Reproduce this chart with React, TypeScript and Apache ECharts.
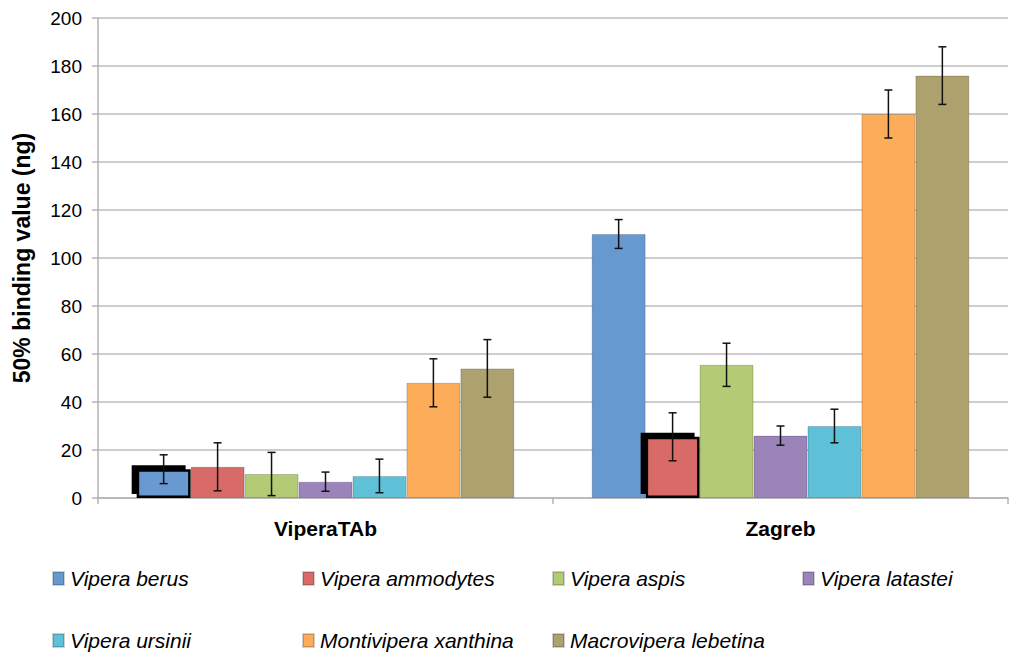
import React, { useEffect, useRef } from "react";
import * as echarts from "echarts";

const categories = ["ViperaTAb", "Zagreb"];
const speciesNames = [
  "Vipera berus",
  "Vipera ammodytes",
  "Vipera aspis",
  "Vipera latastei",
  "Vipera ursinii",
  "Montivipera xanthina",
  "Macrovipera lebetina",
];
// values per species: [ViperaTAb, Zagreb]
const viperaBerus = [12, 110];
const viperaAmmodytes = [13, 25.5];
const viperaAspis = [10, 55.5];
const viperaLatastei = [6.8, 26];
const viperaUrsinii = [9.2, 30];
const montiviperaXanthina = [48, 160];
const macroviperaLebetina = [54, 176];
// error (±) per species: [ViperaTAb, Zagreb]
const errBerus = [6, 6];
const errAmmodytes = [10, 10];
const errAspis = [9, 9];
const errLatastei = [4, 4];
const errUrsinii = [7, 7];
const errXanthina = [10, 10];
const errLebetina = [12, 12];
// highlighted (outlined) bars: [seriesIndex, categoryIndex]
const highlighted = [
  [0, 0],
  [1, 1],
];
const yTicks = { min: 0, max: 200, interval: 20 };

const seriesValues = [
  viperaBerus,
  viperaAmmodytes,
  viperaAspis,
  viperaLatastei,
  viperaUrsinii,
  montiviperaXanthina,
  macroviperaLebetina,
];
const seriesErrors = [
  errBerus,
  errAmmodytes,
  errAspis,
  errLatastei,
  errUrsinii,
  errXanthina,
  errLebetina,
];

const colors = [
  "#6799D1",
  "#D86B67",
  "#B3CB74",
  "#9B84BA",
  "#5EC1D7",
  "#FDAC5A",
  "#ADA16D",
];

const FONT = "'Liberation Sans', Arial, Helvetica, sans-serif";
const CAT_GAP = 0.17;

export default function App() {
  const ref = useRef<HTMLDivElement>(null);

  useEffect(() => {
    if (!ref.current) return;
    const chart = echarts.init(ref.current, null, { renderer: "svg" });
    const n = speciesNames.length;

    const barSeries = speciesNames.map((name, si) => ({
      name,
      type: "bar",
      barGap: "0%",
      barCategoryGap: "17%",
      itemStyle: {
        color: colors[si],
        borderColor: "rgba(0,0,0,0.18)",
        borderWidth: 1,
      },
      data: seriesValues[si].map((v, ci) => {
        const hl = highlighted.some((h) => h[0] === si && h[1] === ci);
        if (!hl) return v;
        return {
          value: v,
          itemStyle: {
            color: colors[si],
            borderColor: "#000",
            borderWidth: 2.5,
            shadowColor: "#000",
            shadowBlur: 0,
            shadowOffsetX: -5,
            shadowOffsetY: -4,
          },
        };
      }),
      z: 2,
    }));

    const errData: number[][] = [];
    seriesValues.forEach((vals, si) => {
      vals.forEach((v, ci) => {
        const e = seriesErrors[si][ci];
        errData.push([ci, v - e, v + e, si]);
      });
    });

    const errSeries = {
      type: "custom",
      name: "errors",
      encode: { x: 0, y: [1, 2] },
      data: errData,
      z: 5,
      silent: true,
      renderItem: (params: any, api: any) => {
        const ci = api.value(0);
        const si = api.value(3);
        const lo = api.coord([ci, api.value(1)]);
        const hi = api.coord([ci, api.value(2)]);
        const bandW = api.size([1, 0])[0];
        const barW = (bandW * (1 - CAT_GAP)) / n;
        const x = lo[0] + (si - (n - 1) / 2) * barW;
        const cap = 4;
        const style = { stroke: "#111", lineWidth: 1.5 };
        return {
          type: "group",
          children: [
            { type: "line", shape: { x1: x, y1: lo[1], x2: x, y2: hi[1] }, style },
            { type: "line", shape: { x1: x - cap, y1: lo[1], x2: x + cap, y2: lo[1] }, style },
            { type: "line", shape: { x1: x - cap, y1: hi[1], x2: x + cap, y2: hi[1] }, style },
          ],
        };
      },
    };

    const legendCols = [52, 302, 552, 802];
    const legendRows = [568, 630];
    const legends = speciesNames.map((name, i) => ({
      data: [name],
      left: legendCols[i % 4],
      top: legendRows[Math.floor(i / 4)],
      padding: 0,
      icon: "rect",
      itemWidth: 11,
      itemHeight: 13,
      itemGap: 0,
      selectedMode: false,
      textStyle: {
        fontFamily: FONT,
        fontSize: 21,
        fontStyle: "italic",
        color: "#000",
        padding: [0, 0, 0, 1],
      },
    }));

    chart.setOption({
      animation: false,
      backgroundColor: "#fff",
      textStyle: { fontFamily: FONT },
      legend: legends,
      grid: { left: 98, right: 16, top: 18, bottom: 165, containLabel: false },
      xAxis: {
        type: "category",
        data: categories,
        axisLine: { show: true, lineStyle: { color: "#b3b3b3", width: 1.5 } },
        axisTick: { show: true, length: 6, interval: 0, lineStyle: { color: "#b3b3b3", width: 1.5 } },
        axisLabel: {
          fontFamily: FONT,
          fontSize: 21,
          fontWeight: "bold",
          color: "#000",
          margin: 20,
        },
        splitLine: { show: false },
      },
      yAxis: {
        type: "value",
        min: yTicks.min,
        max: yTicks.max,
        interval: yTicks.interval,
        name: "50% binding value (ng)",
        nameLocation: "middle",
        nameGap: 65,
        nameTextStyle: {
          fontFamily: FONT,
          fontSize: 23,
          fontWeight: "bold",
          color: "#000",
        },
        axisLine: { show: true, lineStyle: { color: "#b3b3b3", width: 1.5 } },
        axisTick: { show: true, length: 6, lineStyle: { color: "#b3b3b3", width: 1.5 } },
        axisLabel: { fontFamily: FONT, fontSize: 19, color: "#000", margin: 16 },
        splitLine: { show: true, lineStyle: { color: "#bcbcbc", width: 1.5 } },
      },
      series: [...barSeries, errSeries],
    });

    return () => chart.dispose();
  }, []);

  return (
    <div
      ref={ref}
      style={{ position: "fixed", left: 0, top: 0, width: 1024, height: 663, background: "#fff" }}
    />
  );
}
